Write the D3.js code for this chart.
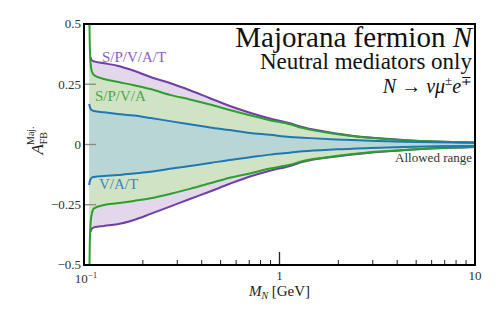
<!DOCTYPE html>
<html>
<head>
<meta charset="utf-8">
<script src="https://cdn.jsdelivr.net/npm/d3@7"></script>
<style>
  body { margin: 0; background: #fff; }
  svg text { font-family: 'Liberation Serif', 'Times New Roman', Tinos, 'DejaVu Serif', serif; }
</style>
</head>
<body>
<div id="chart"></div>
<script>
// masses in GeV, asymmetry values
const massPurple = [0.1080, 0.1095, 0.1125, 0.1266, 0.148, 0.180, 0.219, 0.275, 0.348, 0.441, 0.557, 0.706, 0.893, 1.13, 1.32, 1.95, 2.9, 4.3, 6.3, 10];
const purpleUp = [0.362, 0.350, 0.345, 0.337, 0.327, 0.306, 0.280, 0.255, 0.225, 0.192, 0.160, 0.132, 0.108, 0.088, 0.072, 0.046, 0.029, 0.019, 0.012, 0.008];
const purpleLo = [-0.362, -0.350, -0.344, -0.338, -0.331, -0.313, -0.288, -0.258, -0.226, -0.195, -0.163, -0.133, -0.109, -0.089, -0.072, -0.050, -0.034, -0.024, -0.016, -0.010];

const massGreen = [0.1062, 0.1070, 0.1080, 0.1095, 0.1125, 0.1266, 0.148, 0.180, 0.219, 0.275, 0.348, 0.441, 0.557, 0.706, 0.893, 1.13, 1.32, 1.95, 2.9, 4.3, 6.3, 10];
const greenUp = [0.6, 0.42, 0.34, 0.305, 0.288, 0.272, 0.260, 0.246, 0.230, 0.206, 0.187, 0.166, 0.143, 0.121, 0.101, 0.084, 0.068, 0.044, 0.028, 0.018, 0.012, 0.0085];
const greenLo = [-0.6, -0.42, -0.33, -0.29, -0.265, -0.251, -0.244, -0.234, -0.223, -0.205, -0.184, -0.161, -0.138, -0.120, -0.100, -0.084, -0.068, -0.048, -0.032, -0.023, -0.016, -0.010];

const massBlue = [0.1062, 0.1075, 0.1095, 0.1125, 0.1266, 0.148, 0.180, 0.219, 0.275, 0.348, 0.441, 0.557, 0.706, 0.893, 1.13, 1.32, 1.95, 2.9, 4.3, 6.3, 10];
const blueUp = [0.168, 0.152, 0.143, 0.139, 0.134, 0.127, 0.120, 0.110, 0.097, 0.084, 0.071, 0.060, 0.048, 0.040, 0.031, 0.028, 0.021, 0.016, 0.0115, 0.009, 0.007];
const blueLo = [-0.168, -0.148, -0.138, -0.135, -0.131, -0.127, -0.120, -0.113, -0.101, -0.089, -0.077, -0.064, -0.053, -0.042, -0.034, -0.028, -0.020, -0.0145, -0.010, -0.0076, -0.006];

const yTicks = [-0.5, -0.25, 0, 0.25, 0.5];
const yTickLabels = ["\u22120.5", "\u22120.25", "0", "0.25", "0.5"];

const width = 499, height = 314;
const margin = { top: 24, right: 24, bottom: 49, left: 84 };

const svg = d3.select("#chart").append("svg")
  .attr("width", width)
  .attr("height", height);

const x = d3.scaleLog().domain([0.1, 10]).range([margin.left, width - margin.right]);
const y = d3.scaleLinear().domain([-0.5, 0.5]).range([height - margin.bottom, margin.top]);

svg.append("clipPath").attr("id", "plot-clip")
  .append("rect")
  .attr("x", margin.left).attr("y", margin.top)
  .attr("width", x(10) - x(0.1)).attr("height", y(-0.5) - y(0.5));

const plot = svg.append("g").attr("clip-path", "url(#plot-clip)");

function band(mass, up, lo) {
  return mass.map((m, i) => ({ m, up: up[i], lo: lo[i] }));
}

const bands = [
  { data: band(massPurple, purpleUp, purpleLo), fill: "#e3d7ec", stroke: "#6f3fa5" },
  { data: band(massGreen, greenUp, greenLo), fill: "#d1e3c5", stroke: "#2ca02c" },
  { data: band(massBlue, blueUp, blueLo), fill: "#b8d7d4", stroke: "#1f77b4" }
];

const area = d3.area()
  .x(d => x(d.m))
  .y0(d => y(d.lo))
  .y1(d => y(d.up))
  .curve(d3.curveMonotoneX);

bands.forEach(b => {
  plot.append("path").datum(b.data).attr("d", area).attr("fill", b.fill);
});

bands.forEach(b => {
  ["up", "lo"].forEach(k => {
    const line = d3.line().x(d => x(d.m)).y(d => y(d[k])).curve(d3.curveMonotoneX);
    plot.append("path").datum(b.data)
      .attr("d", line)
      .attr("fill", "none")
      .attr("stroke", b.stroke)
      .attr("stroke-width", 2);
  });
});

// y ticks (inward, gray)
svg.selectAll(".ytick")
  .data(yTicks.slice(1, -1))
  .enter().append("line")
  .attr("x1", margin.left).attr("x2", margin.left + 12)
  .attr("y1", d => y(d)).attr("y2", d => y(d))
  .attr("stroke", "#888").attr("stroke-width", 1.3);

svg.selectAll(".ylab")
  .data(yTicks)
  .enter().append("text")
  .attr("x", margin.left - 3)
  .attr("y", d => y(d))
  .attr("dy", "0.33em")
  .attr("text-anchor", "end")
  .attr("font-size", 13)
  .attr("fill", "#333")
  .text((d, i) => yTickLabels[i]);

// x ticks: minor inward, major at 1
const minor = [];
[0.1, 1].forEach(dec => { for (let k = 2; k <= 9; k++) minor.push(dec * k); });
svg.selectAll(".xminor")
  .data(minor)
  .enter().append("line")
  .attr("x1", d => x(d)).attr("x2", d => x(d))
  .attr("y1", y(-0.5)).attr("y2", y(-0.5) - 5)
  .attr("stroke", "#222").attr("stroke-width", 1);

svg.append("line")
  .attr("x1", x(1)).attr("x2", x(1))
  .attr("y1", y(-0.5)).attr("y2", y(-0.5) - 13)
  .attr("stroke", "#222").attr("stroke-width", 1.3);

const xLab = svg.append("g").attr("font-size", 13).attr("fill", "#333").attr("text-anchor", "middle");
const t01 = xLab.append("text").attr("x", x(0.1) + 2).attr("y", 283);
t01.append("tspan").text("10");
t01.append("tspan").attr("dy", -5).attr("font-size", 9).text("\u22121");
xLab.append("text").attr("x", x(1)).attr("y", 280).text("1");
xLab.append("text").attr("x", x(10)).attr("y", 280).text("10");

// frame
svg.append("rect")
  .attr("x", margin.left).attr("y", margin.top)
  .attr("width", x(10) - x(0.1)).attr("height", y(-0.5) - y(0.5))
  .attr("fill", "none").attr("stroke", "#000").attr("stroke-width", 2);

// axis titles
const xt = svg.append("text").attr("x", x(1)).attr("y", 296)
  .attr("text-anchor", "middle").attr("font-size", 15).attr("fill", "#222");
xt.append("tspan").attr("font-style", "italic").text("M");
xt.append("tspan").attr("font-style", "italic").attr("font-size", 10).attr("dy", 3).text("N");
xt.append("tspan").attr("dy", -3).text(" [GeV]");

const yt = svg.append("text")
  .attr("transform", `translate(43,${y(0) - 4}) rotate(-90)`)
  .attr("text-anchor", "middle").attr("font-size", 17).attr("fill", "#222");
yt.append("tspan").attr("font-style", "italic").text("A");
yt.append("tspan").attr("font-size", 10).attr("dy", 4).text("FB");
yt.append("tspan").attr("font-size", 10).attr("dx", -13).attr("dy", -13).text("Maj.");

// titles
const right = x(10) - 3;
const t1 = svg.append("text").attr("x", right).attr("y", 47).attr("text-anchor", "end")
  .attr("font-size", 29).attr("fill", "#111");
t1.append("tspan").text("Majorana fermion ");
t1.append("tspan").attr("font-style", "italic").text("N");
svg.append("text").attr("x", right).attr("y", 69).attr("text-anchor", "end")
  .attr("font-size", 23).attr("fill", "#111")
  .text("Neutral mediators only");
const dec = svg.append("text").attr("x", right).attr("y", 93).attr("text-anchor", "end")
  .attr("font-size", 20).attr("fill", "#111");
dec.append("tspan").attr("font-style", "italic").text("N");
dec.append("tspan").text(" \u2192 ");
dec.append("tspan").attr("font-style", "italic").text("\u03bd\u03bc");
dec.append("tspan").attr("font-size", 13).attr("dy", -8).text("\u00b1");
dec.append("tspan").attr("font-style", "italic").attr("dy", 8).text("e");
dec.append("tspan").attr("font-size", 13).attr("dy", -8).text("\u2213");

// band labels
svg.append("text").attr("x", 102).attr("y", 62).attr("font-size", 15)
  .attr("fill", "#8b5fbf").text("S/P/V/A/T");
svg.append("text").attr("x", 95).attr("y", 101).attr("font-size", 15)
  .attr("fill", "#4aa84a").text("S/P/V/A");
svg.append("text").attr("x", 99).attr("y", 189).attr("font-size", 15)
  .attr("fill", "#3a86bd").text("V/A/T");
svg.append("text").attr("x", right).attr("y", 162).attr("text-anchor", "end")
  .attr("font-size", 13).attr("fill", "#333").text("Allowed range");
</script>
</body>
</html>
